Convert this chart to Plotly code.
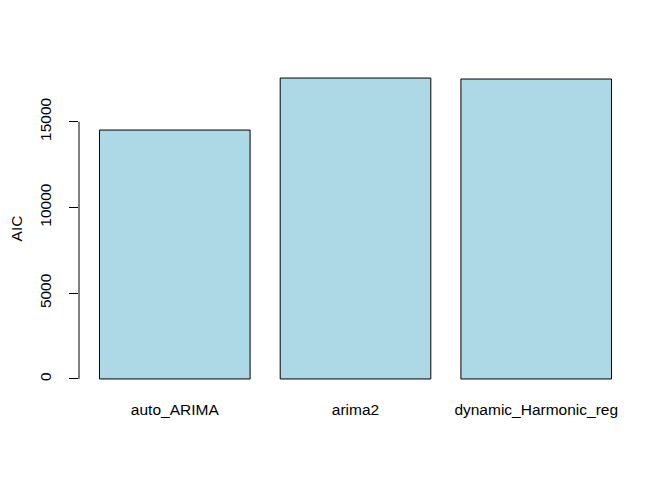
import plotly.graph_objects as go

models = ["auto_ARIMA", "arima2", "dynamic_Harmonic_reg"]
aic = [14510, 17543, 17485]
y_ticks = [0, 5000, 10000, 15000]
y_tick_labels = ["0", "5000", "10000", "15000"]

ymax = max(aic)
font = "Liberation Sans, Arial, sans-serif"

fig = go.Figure(go.Bar(
    x=models, y=aic,
    marker=dict(color="#ADD8E6", line=dict(color="black", width=1)),
))

# page body has an 8px margin, so the figure is sized/offset to compensate
fig.update_layout(
    width=664, height=472,
    margin=dict(l=71, r=40, t=58, b=89, autoexpand=False),
    paper_bgcolor="white", plot_bgcolor="white",
    bargap=1 - 1 / 1.2,
    showlegend=False,
    font=dict(family=font, size=15.5, color="black"),
)
fig.update_xaxes(
    range=[-0.53, 2.53], showgrid=False, zeroline=False, showline=False,
    ticks="", tickfont=dict(size=15.5), ticklabelstandoff=7,
)
fig.update_yaxes(
    range=[-0.04 * ymax, 1.04 * ymax], showgrid=False, zeroline=False, showline=False,
    tickmode="array", tickvals=y_ticks, ticktext=y_tick_labels,
    ticks="outside", ticklen=9, tickcolor="black", tickwidth=1,
    tickangle=-90, tickfont=dict(size=15.5), ticklabelstandoff=12,
    title=dict(text="AIC", font=dict(size=15.5), standoff=21),
)
fig.add_shape(type="line", xref="paper", yref="y", x0=0, x1=0,
              y0=y_ticks[0], y1=y_ticks[-1], line=dict(color="black", width=1))

fig.write_html("out.html")
